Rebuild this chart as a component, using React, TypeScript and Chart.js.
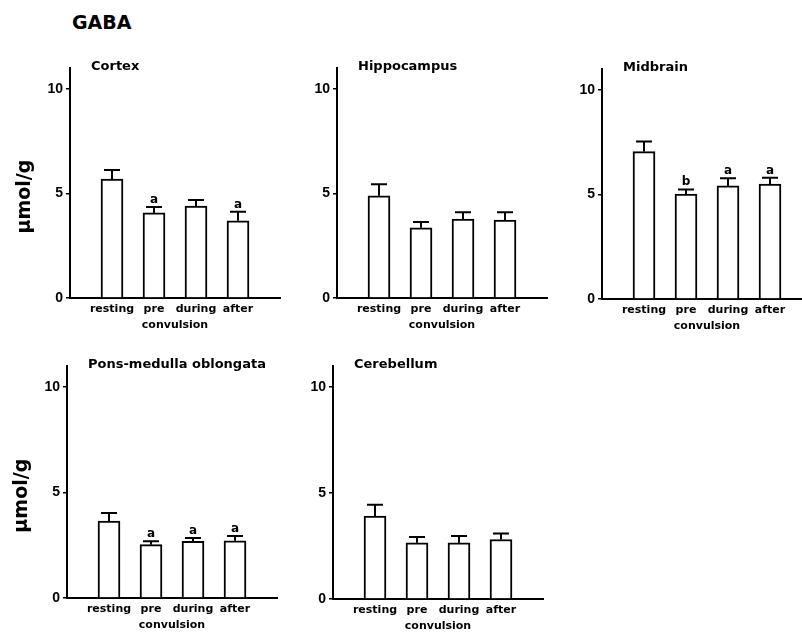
import React, { useEffect, useRef } from 'react';
import { Chart, registerables } from 'chart.js';

Chart.register(...registerables);

// ---- data ----
const conditions = ['resting', 'pre', 'during', 'after'];
const conditionPositions = [1, 2, 3, 4];
const yTickValues = [0, 5, 10];
const groupLabel = 'convulsion';
const figureTitle = 'GABA';
const yAxisTitle = 'µmol/g';

const cortexMean = [5.69, 4.07, 4.4, 3.69];
const cortexSem = [0.43, 0.28, 0.29, 0.43];
const cortexMarks = ['', 'a', '', 'a'];

const hippocampusMean = [4.89, 3.36, 3.78, 3.73];
const hippocampusSem = [0.55, 0.28, 0.32, 0.37];
const hippocampusMarks = ['', '', '', ''];

const midbrainMean = [7.05, 5.02, 5.41, 5.5];
const midbrainSem = [0.48, 0.22, 0.36, 0.3];
const midbrainMarks = ['', 'b', 'a', 'a'];

const ponsMean = [3.65, 2.53, 2.69, 2.71];
const ponsSem = [0.38, 0.16, 0.16, 0.23];
const ponsMarks = ['', 'a', 'a', 'a'];

const cerebellumMean = [3.91, 2.65, 2.65, 2.81];
const cerebellumSem = [0.54, 0.28, 0.32, 0.28];
const cerebellumMarks = ['', '', '', ''];

// ---- layout constants ----
const YW = 68; // y-axis box width
const PLOT_W = 210; // x from 0 to 5
const PR = 22;
const PT = 30;
const XH = 45;
const FONT = '"DejaVu Sans", sans-serif';

type PanelProps = {
  title: string;
  mean: number[];
  sem: number[];
  marks: string[];
  yTitle: boolean;
  axisX: number;
  y0: number;
  y10: number;
};

function Panel({ title, mean, sem, marks, yTitle, axisX, y0, y10 }: PanelProps) {
  const ref = useRef<HTMLCanvasElement>(null);
  const unit = (y0 - y10) / 10;
  const chartH = Math.round(unit * 11);
  const canvasTop = y0 - chartH - PT;
  const width = YW + PLOT_W + PR;
  const height = PT + chartH + XH;

  useEffect(() => {
    const annotate = {
      id: 'annotate',
      afterDatasetsDraw(chart: any) {
        const { ctx, chartArea, scales } = chart;
        const x = scales.x;
        const y = scales.y;
        ctx.save();
        ctx.strokeStyle = '#000';
        ctx.fillStyle = '#000';
        ctx.lineWidth = 2;
        conditionPositions.forEach((p, i) => {
          const px = x.getPixelForValue(p);
          const yt = y.getPixelForValue(mean[i]);
          const ye = y.getPixelForValue(mean[i] + sem[i]);
          ctx.beginPath();
          ctx.moveTo(px, yt);
          ctx.lineTo(px, ye);
          ctx.moveTo(px - 8, ye);
          ctx.lineTo(px + 8, ye);
          ctx.stroke();
          if (marks[i]) {
            ctx.font = `bold 12px ${FONT}`;
            ctx.textAlign = 'center';
            ctx.textBaseline = 'alphabetic';
            ctx.fillText(marks[i], px, ye - 4);
          }
        });
        // group label under pre/during
        ctx.font = `bold 11px ${FONT}`;
        ctx.textAlign = 'center';
        ctx.textBaseline = 'middle';
        ctx.fillText(groupLabel, x.getPixelForValue(2.5), chartArea.bottom + 27);
        // panel title
        ctx.font = `bold 13px ${FONT}`;
        ctx.textAlign = 'left';
        ctx.textBaseline = 'alphabetic';
        ctx.fillText(title, chartArea.left + 21, chartArea.top + 2);
        // y title
        if (yTitle) {
          ctx.save();
          ctx.translate(chartArea.left - 45, y.getPixelForValue(4.85));
          ctx.rotate(-Math.PI / 2);
          ctx.font = `bold 19px ${FONT}`;
          ctx.textAlign = 'center';
          ctx.textBaseline = 'middle';
          ctx.fillText(yAxisTitle, 0, 0);
          ctx.restore();
        }
        ctx.restore();
      },
    };

    const chart = new Chart(ref.current as HTMLCanvasElement, {
      type: 'bar',
      data: {
        datasets: [
          {
            data: conditionPositions.map((p, i) => ({ x: p, y: mean[i] })),
            backgroundColor: '#fff',
            borderColor: '#000',
            borderWidth: 2,
            barThickness: 22,
          },
        ],
      },
      options: {
        animation: false,
        responsive: false,
        maintainAspectRatio: false,
        layout: { padding: { top: PT, right: PR, left: 0, bottom: 0 } },
        plugins: { legend: { display: false }, tooltip: { enabled: false }, title: { display: false } },
        scales: {
          x: {
            type: 'linear',
            min: 0,
            max: 5,
            offset: false,
            afterBuildTicks: (s: any) => {
              s.ticks = conditionPositions.map((v) => ({ value: v }));
            },
            afterFit: (s: any) => {
              s.height = XH;
            },
            ticks: {
              autoSkip: false,
              maxRotation: 0,
              padding: 5,
              color: '#000',
              font: { family: FONT, size: 11, weight: 'bold' },
              callback: (v: any) => conditions[conditionPositions.indexOf(Number(v))] ?? '',
            },
            grid: { display: false, drawTicks: false, offset: false },
            border: { display: true, color: '#000', width: 2 },
          },
          y: {
            type: 'linear',
            min: 0,
            max: 11,
            afterBuildTicks: (s: any) => {
              s.ticks = yTickValues.map((v) => ({ value: v }));
            },
            afterFit: (s: any) => {
              s.width = YW;
            },
            ticks: {
              padding: 3,
              color: '#000',
              font: { family: '"Liberation Sans", sans-serif', size: 14, weight: 'bold' },
            },
            grid: { display: true, drawOnChartArea: false, drawTicks: true, tickLength: 4, color: '#000', lineWidth: 1.5 },
            border: { display: true, color: '#000', width: 2 },
          },
        },
      } as any,
      plugins: [annotate],
    });
    return () => chart.destroy();
  }, []);

  return (
    <canvas
      ref={ref}
      width={width}
      height={height}
      style={{ position: 'absolute', left: axisX - YW, top: canvasTop, width, height }}
    />
  );
}

export default function App() {
  return (
    <div style={{ position: 'absolute', left: 0, top: 0, width: 802, height: 642, background: '#fff', overflow: 'hidden' }}>
      <div
        style={{
          position: 'absolute',
          left: 72,
          top: 13,
          fontFamily: FONT,
          fontWeight: 'bold',
          fontSize: 19,
          lineHeight: '19px',
          color: '#000',
        }}
      >
        {figureTitle}
      </div>
      <Panel title="Cortex" mean={cortexMean} sem={cortexSem} marks={cortexMarks} yTitle axisX={70} y0={298} y10={89} />
      <Panel title="Hippocampus" mean={hippocampusMean} sem={hippocampusSem} marks={hippocampusMarks} yTitle={false} axisX={337} y0={298} y10={89} />
      <Panel title="Midbrain" mean={midbrainMean} sem={midbrainSem} marks={midbrainMarks} yTitle={false} axisX={602} y0={299} y10={90} />
      <Panel title="Pons-medulla oblongata" mean={ponsMean} sem={ponsSem} marks={ponsMarks} yTitle axisX={67} y0={598} y10={387} />
      <Panel title="Cerebellum" mean={cerebellumMean} sem={cerebellumSem} marks={cerebellumMarks} yTitle={false} axisX={333} y0={599} y10={387} />
    </div>
  );
}
